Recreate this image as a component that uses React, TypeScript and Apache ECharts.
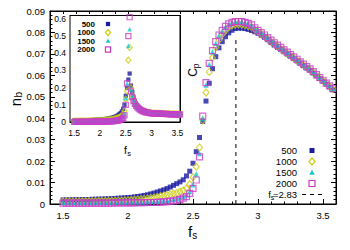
import { useEffect, useRef } from "react";
import * as echarts from "echarts";

// ---------- data ----------
const fs = [
  1.5, 1.525, 1.55, 1.575, 1.6, 1.625, 1.65, 1.675, 1.7, 1.725,
  1.75, 1.775, 1.8, 1.825, 1.85, 1.875, 1.9, 1.925, 1.95, 1.975,
  2, 2.025, 2.05, 2.075, 2.1, 2.125, 2.15, 2.175, 2.2, 2.225,
  2.25, 2.275, 2.3, 2.325, 2.35, 2.375, 2.4, 2.425, 2.45, 2.475,
  2.5, 2.525, 2.55, 2.575, 2.6, 2.625, 2.65, 2.675, 2.7, 2.725,
  2.75, 2.775, 2.8, 2.825, 2.85, 2.875, 2.9, 2.925, 2.95, 2.975,
  3, 3.025, 3.05, 3.075, 3.1, 3.125, 3.15, 3.175, 3.2, 3.225,
  3.25, 3.275, 3.3, 3.325, 3.35, 3.375, 3.4, 3.425, 3.45, 3.475,
  3.5, 3.525, 3.55, 3.575,
];

const cp500 = [
  0.0019, 0.0019, 0.0019, 0.002, 0.002, 0.002, 0.0021, 0.0021, 0.0021, 0.0022,
  0.0022, 0.0023, 0.0023, 0.0024, 0.0024, 0.0025, 0.0026, 0.0027, 0.0028, 0.0029,
  0.003, 0.0031, 0.0033, 0.0035, 0.0037, 0.004, 0.0043, 0.0047, 0.0051, 0.0056,
  0.0061, 0.0066, 0.0072, 0.0079, 0.0087, 0.0095, 0.0103, 0.0113, 0.0131, 0.0153,
  0.019, 0.0244, 0.031, 0.0385, 0.048, 0.0563, 0.0631, 0.0687, 0.0728, 0.0757,
  0.078, 0.0798, 0.081, 0.0818, 0.082, 0.082, 0.0818, 0.0814, 0.0809, 0.0803,
  0.0796, 0.0787, 0.0777, 0.0766, 0.0753, 0.0741, 0.0731, 0.072, 0.071, 0.0699,
  0.0689, 0.0678, 0.0667, 0.0656, 0.0645, 0.0634, 0.0623, 0.0611, 0.0597, 0.0585,
  0.0572, 0.0559, 0.0546, 0.0533,
];
const cp1000 = [
  0.0012, 0.0012, 0.0012, 0.0012, 0.0012, 0.0012, 0.0013, 0.0013, 0.0013, 0.0013,
  0.0013, 0.0014, 0.0014, 0.0014, 0.0014, 0.0015, 0.0015, 0.0016, 0.0016, 0.0017,
  0.0018, 0.0019, 0.002, 0.0021, 0.0022, 0.0024, 0.0026, 0.0028, 0.003, 0.0033,
  0.0036, 0.0039, 0.0042, 0.0045, 0.0048, 0.0052, 0.0057, 0.0063, 0.0072, 0.0092,
  0.0125, 0.0174, 0.0264, 0.039, 0.052, 0.0616, 0.0682, 0.073, 0.0765, 0.0792,
  0.081, 0.0825, 0.0833, 0.0837, 0.0838, 0.0837, 0.0834, 0.083, 0.0825, 0.0815,
  0.0804, 0.0794, 0.0783, 0.0771, 0.0759, 0.0747, 0.0736, 0.0725, 0.0714, 0.0703,
  0.0692, 0.0681, 0.067, 0.0659, 0.0648, 0.0637, 0.0626, 0.0614, 0.06, 0.0588,
  0.0575, 0.0562, 0.0549, 0.0536,
];
const cp1500 = [
  0.0008, 0.0008, 0.0008, 0.0008, 0.0008, 0.0008, 0.0008, 0.0008, 0.0008, 0.0008,
  0.0008, 0.0008, 0.0008, 0.0008, 0.0009, 0.0009, 0.0009, 0.0009, 0.0009, 0.0009,
  0.0009, 0.001, 0.001, 0.001, 0.0011, 0.0011, 0.0012, 0.0012, 0.0013, 0.0014,
  0.0015, 0.0016, 0.0018, 0.002, 0.0022, 0.0025, 0.003, 0.0035, 0.0042, 0.0058,
  0.009, 0.014, 0.0236, 0.04, 0.0555, 0.065, 0.071, 0.075, 0.0785, 0.0805,
  0.0825, 0.0838, 0.0846, 0.085, 0.0851, 0.085, 0.0847, 0.0842, 0.0835, 0.0822,
  0.081, 0.0799, 0.0788, 0.0777, 0.0764, 0.0752, 0.0741, 0.073, 0.0719, 0.0708,
  0.0697, 0.0686, 0.0675, 0.0663, 0.0652, 0.0641, 0.063, 0.0617, 0.0603, 0.059,
  0.0577, 0.0564, 0.0551, 0.0538,
];
const cp2000 = [
  0.0004, 0.0004, 0.0004, 0.0004, 0.0004, 0.0004, 0.0004, 0.0004, 0.0004, 0.0004,
  0.0004, 0.0004, 0.0004, 0.0004, 0.0004, 0.0004, 0.0005, 0.0005, 0.0005, 0.0005,
  0.0005, 0.0005, 0.0005, 0.0006, 0.0006, 0.0006, 0.0007, 0.0007, 0.0007, 0.0008,
  0.0009, 0.001, 0.0011, 0.0013, 0.0015, 0.0018, 0.0022, 0.0027, 0.0034, 0.005,
  0.0073, 0.0112, 0.022, 0.041, 0.0566, 0.0656, 0.0715, 0.0757, 0.0788, 0.081,
  0.0828, 0.084, 0.0847, 0.085, 0.0851, 0.085, 0.0847, 0.0842, 0.0835, 0.0822,
  0.081, 0.0799, 0.0788, 0.0776, 0.0764, 0.0752, 0.0741, 0.073, 0.0719, 0.0708,
  0.0697, 0.0686, 0.0675, 0.0663, 0.0652, 0.0641, 0.063, 0.0617, 0.0603, 0.059,
  0.0577, 0.0564, 0.0551, 0.0538,
];

const nb500 = [
  0.008, 0.008, 0.008, 0.0085, 0.009, 0.009, 0.0095, 0.0095, 0.01, 0.01,
  0.0105, 0.0105, 0.011, 0.011, 0.0115, 0.0115, 0.012, 0.0125, 0.013, 0.0135,
  0.014, 0.0145, 0.015, 0.016, 0.017, 0.018, 0.019, 0.02, 0.022, 0.024,
  0.026, 0.028, 0.031, 0.035, 0.039, 0.045, 0.052, 0.062, 0.077, 0.1,
  0.153, 0.198, 0.247, 0.282, 0.212, 0.175, 0.143, 0.12, 0.105, 0.095,
  0.086, 0.079, 0.073, 0.068, 0.064, 0.061, 0.059, 0.057, 0.056, 0.055,
  0.054, 0.053, 0.053, 0.052, 0.052, 0.051, 0.051, 0.051, 0.05, 0.05,
  0.05, 0.05, 0.049, 0.049, 0.049, 0.049, 0.048, 0.048, 0.048, 0.048,
  0.047, 0.047, 0.047, 0.047,
];
const nb1000 = [
  0.005, 0.005, 0.005, 0.005, 0.0055, 0.0055, 0.0055, 0.006, 0.006, 0.006,
  0.0065, 0.0065, 0.0065, 0.007, 0.007, 0.007, 0.0075, 0.0075, 0.008, 0.008,
  0.0085, 0.009, 0.0095, 0.01, 0.0105, 0.011, 0.012, 0.013, 0.014, 0.015,
  0.016, 0.018, 0.02, 0.022, 0.025, 0.028, 0.032, 0.038, 0.048, 0.065,
  0.133, 0.18, 0.36, 0.433, 0.2, 0.155, 0.128, 0.11, 0.097, 0.088,
  0.081, 0.075, 0.07, 0.066, 0.063, 0.06, 0.058, 0.056, 0.055, 0.054,
  0.053, 0.052, 0.052, 0.051, 0.051, 0.05, 0.05, 0.05, 0.049, 0.049,
  0.049, 0.049, 0.048, 0.048, 0.048, 0.048, 0.047, 0.047, 0.047, 0.047,
  0.046, 0.046, 0.046, 0.046,
];
const nb1500 = [
  0.003, 0.003, 0.003, 0.003, 0.003, 0.0032, 0.0032, 0.0032, 0.0034, 0.0034,
  0.0034, 0.0036, 0.0036, 0.0038, 0.0038, 0.004, 0.004, 0.0042, 0.0044, 0.0046,
  0.0048, 0.005, 0.0053, 0.0056, 0.006, 0.0064, 0.0068, 0.0073, 0.008, 0.0088,
  0.0096, 0.0105, 0.012, 0.0135, 0.0155, 0.018, 0.021, 0.026, 0.033, 0.046,
  0.139, 0.224, 0.443, 0.54, 0.19, 0.15, 0.125, 0.108, 0.096, 0.087,
  0.08, 0.074, 0.069, 0.065, 0.062, 0.059, 0.057, 0.055, 0.054, 0.053,
  0.052, 0.051, 0.051, 0.05, 0.05, 0.049, 0.049, 0.049, 0.048, 0.048,
  0.048, 0.048, 0.047, 0.047, 0.047, 0.047, 0.046, 0.046, 0.046, 0.046,
  0.045, 0.045, 0.045, 0.045,
];
const nb2000 = [
  0.001, 0.001, 0.001, 0.001, 0.001, 0.0011, 0.0011, 0.0011, 0.0012, 0.0012,
  0.0012, 0.0013, 0.0013, 0.0014, 0.0014, 0.0015, 0.0016, 0.0017, 0.0018, 0.0019,
  0.002, 0.0022, 0.0024, 0.0026, 0.0028, 0.003, 0.0033, 0.0036, 0.004, 0.0045,
  0.005, 0.0057, 0.0065, 0.0075, 0.0088, 0.0105, 0.013, 0.017, 0.024, 0.038,
  0.1, 0.224, 0.5, 0.61, 0.178, 0.145, 0.122, 0.106, 0.094, 0.085,
  0.078, 0.072, 0.068, 0.064, 0.061, 0.058, 0.056, 0.054, 0.053, 0.052,
  0.051, 0.05, 0.05, 0.049, 0.049, 0.048, 0.048, 0.048, 0.047, 0.047,
  0.047, 0.047, 0.046, 0.046, 0.046, 0.046, 0.045, 0.045, 0.045, 0.045,
  0.044, 0.044, 0.044, 0.044,
];

const sizeNames = ["500", "1000", "1500", "2000"];
const fsMajor = [1.5, 2, 2.5, 3, 3.5];
const fsMinor = [1.5, 1.6, 1.7, 1.8, 1.9, 2, 2.1, 2.2, 2.3, 2.4, 2.5, 2.6, 2.7, 2.8, 2.9, 3, 3.1, 3.2, 3.3, 3.4, 3.5];
const fsCritical = 2.83;
const criticalLineTop = 0.078;
const criticalLabel = "=2.83";

// ---------- styles ----------
const FONT = "Liberation Sans";
const BLUE = "#1c1ca2";
const YELLOW = "#cccc10";
const CYAN = "#10c8cc";
const MAGENTA = "#c83cc8";

function marker(k: number, scale: number) {
  if (k === 0) return { symbol: "rect", symbolSize: 5 * scale, itemStyle: { color: BLUE } };
  if (k === 1)
    return {
      symbol: "diamond",
      symbolSize: [6 * scale, 7 * scale],
      itemStyle: { color: "rgba(0,0,0,0)", borderColor: YELLOW, borderWidth: 1.2 },
    };
  if (k === 2) return { symbol: "triangle", symbolSize: 5.5 * scale, itemStyle: { color: CYAN } };
  return {
    symbol: "rect",
    symbolSize: 6 * scale,
    itemStyle: { color: "rgba(0,0,0,0)", borderColor: MAGENTA, borderWidth: 1.2 },
  };
}

const black = { color: "#000", width: 1 };

export default function App() {
  const ref = useRef<HTMLDivElement>(null);
  useEffect(() => {
    if (!ref.current) return;
    const chart = echarts.init(ref.current, undefined, { renderer: "svg" });
    const mainSets = [cp500, cp1000, cp1500, cp2000];
    const insetSets = [nb500, nb1000, nb1500, nb2000];

    const mainSeries = mainSets.map((arr, k) => ({
      type: "scatter",
      name: sizeNames[k],
      xAxisIndex: 0,
      yAxisIndex: 0,
      data: fs.map((x, i) => [x, arr[i]]),
      ...marker(k, 1),
      z: 2 + k,
      silent: true,
    }));
    const insetSeries = insetSets.map((arr, k) => ({
      type: "scatter",
      name: sizeNames[k] + " ",
      xAxisIndex: 3,
      yAxisIndex: 2,
      data: fs.map((x, i) => [x, arr[i]]),
      ...marker(k, 0.85),
      clip: true,
      z: 10 + k,
      silent: true,
    }));

    const tickFont = { fontFamily: FONT, color: "#000" };

    const legendRowsMain = [150.5, 161.5, 172.5, 183.5];
    const legendRowsInset = [24, 32.5, 41, 49.5];
    const mx = 312;
    const ix = 108;

    const legendMarkers = (cx: number, rows: number[], s: number) => [
      { type: "rect", shape: { x: cx - 2.5 * s, y: rows[0] - 2.5 * s, width: 5 * s, height: 5 * s }, style: { fill: BLUE } },
      {
        type: "polygon",
        shape: { points: [[cx, rows[1] - 3.5 * s], [cx + 3 * s, rows[1]], [cx, rows[1] + 3.5 * s], [cx - 3 * s, rows[1]]] },
        style: { fill: "none", stroke: YELLOW, lineWidth: 1.2 },
      },
      {
        type: "polygon",
        shape: { points: [[cx, rows[2] - 2.8 * s], [cx + 2.8 * s, rows[2] + 2.2 * s], [cx - 2.8 * s, rows[2] + 2.2 * s]] },
        style: { fill: CYAN },
      },
      { type: "rect", shape: { x: cx - 3 * s, y: rows[3] - 3 * s, width: 6 * s, height: 6 * s }, style: { fill: "none", stroke: MAGENTA, lineWidth: 1.2 } },
    ];

    const option: any = {
      animation: false,
      grid: [
        { left: 50, top: 11, width: 286, height: 193, show: true, borderColor: "#000", borderWidth: 1, backgroundColor: "transparent" },
        { left: 70, top: 15.5, width: 110, height: 106.5, show: true, borderColor: "#000", borderWidth: 1, backgroundColor: "#fff", z: 5 },
      ],
      xAxis: [
        {
          gridIndex: 0, type: "value", min: 1.4, max: 3.6, position: "bottom",
          axisLine: { show: true, lineStyle: black },
          axisTick: { show: true, inside: true, length: 5, customValues: fsMajor, lineStyle: black },
          axisLabel: { show: true, customValues: fsMajor, formatter: (v: number) => String(v), fontSize: 9.5, margin: 6, ...tickFont },
          splitLine: { show: false },
        },
        {
          gridIndex: 0, type: "value", min: 1.4, max: 3.6, position: "bottom",
          axisLine: { show: false },
          axisTick: { show: true, inside: true, length: 2.5, customValues: fsMinor, lineStyle: black },
          axisLabel: { show: false },
          splitLine: { show: false },
        },
        {
          gridIndex: 0, type: "value", min: 1.4, max: 3.6, position: "top",
          axisLine: { show: true, lineStyle: black },
          axisTick: { show: true, inside: true, length: 3, customValues: fsMinor, lineStyle: black },
          axisLabel: { show: false },
          splitLine: { show: false },
        },
        {
          gridIndex: 1, type: "value", min: 1.42, max: 3.55, position: "bottom",
          axisLine: { show: true, lineStyle: black },
          axisTick: { show: true, inside: true, length: 4, customValues: fsMajor, lineStyle: black },
          axisLabel: { show: true, customValues: fsMajor, formatter: (v: number) => String(v), fontSize: 8.5, margin: 6, ...tickFont },
          splitLine: { show: false },
        },
        {
          gridIndex: 1, type: "value", min: 1.42, max: 3.55, position: "bottom",
          axisLine: { show: false },
          axisTick: { show: true, inside: true, length: 2, customValues: fsMinor, lineStyle: black },
          axisLabel: { show: false },
          splitLine: { show: false },
        },
        {
          gridIndex: 1, type: "value", min: 1.42, max: 3.55, position: "top",
          axisLine: { show: true, lineStyle: black },
          axisTick: { show: true, inside: true, length: 2.5, customValues: fsMinor, lineStyle: black },
          axisLabel: { show: false },
          splitLine: { show: false },
        },
      ],
      yAxis: [
        {
          gridIndex: 0, type: "value", min: 0, max: 0.09, interval: 0.01, position: "left",
          axisLine: { show: true, lineStyle: black },
          axisTick: { show: true, inside: true, length: 5, lineStyle: black },
          minorTick: { show: true, splitNumber: 5, length: 2.5, lineStyle: black },
          axisLabel: { formatter: (v: number) => (v === 0 ? "0" : v.toFixed(2)), fontSize: 9.5, margin: 5, ...tickFont },
          splitLine: { show: false },
        },
        {
          gridIndex: 0, type: "value", min: 0, max: 0.09, interval: 0.01, position: "right",
          axisLine: { show: true, lineStyle: black },
          axisTick: { show: true, inside: true, length: 5, lineStyle: black },
          minorTick: { show: true, splitNumber: 5, length: 2.5, lineStyle: black },
          axisLabel: { show: false },
          splitLine: { show: false },
        },
        {
          gridIndex: 1, type: "value", min: 0, max: 0.62, interval: 0.1, position: "left",
          axisLine: { show: true, lineStyle: black },
          axisTick: { show: true, inside: true, length: 4, lineStyle: black },
          minorTick: { show: true, splitNumber: 5, length: 2, lineStyle: black },
          axisLabel: { formatter: (v: number) => (v === 0 ? "0" : v > 0.61 ? "" : v.toFixed(1)), fontSize: 8.5, margin: 4, showMaxLabel: false, ...tickFont },
          splitLine: { show: false },
        },
        {
          gridIndex: 1, type: "value", min: 0, max: 0.62, interval: 0.1, position: "right",
          axisLine: { show: true, lineStyle: black },
          axisTick: { show: true, inside: true, length: 4, lineStyle: black },
          minorTick: { show: true, splitNumber: 5, length: 2, lineStyle: black },
          axisLabel: { show: false },
          splitLine: { show: false },
        },
      ],
      series: [
        ...mainSeries,
        {
          type: "line",
          name: "critical",
          xAxisIndex: 0,
          yAxisIndex: 0,
          data: [[fsCritical, 0], [fsCritical, criticalLineTop]],
          symbol: "none",
          lineStyle: { color: "#000", width: 1, type: [4, 4] },
          z: 1,
          silent: true,
        },
        ...insetSeries,
      ],
      graphic: {
        elements: [
          // main y title n_b
          {
            type: "group", x: 15, y: 99, rotation: Math.PI / 2, z: 50,
            children: [
              { type: "text", x: -3, y: 0, style: { text: "n", fontSize: 15, fontFamily: FONT, fill: "#000", align: "center", verticalAlign: "middle" } },
              { type: "text", x: 1.5, y: 3.5, style: { text: "b", fontSize: 10, fontFamily: FONT, fill: "#000", align: "left", verticalAlign: "middle" } },
            ],
          },
          // C_p
          {
            type: "group", x: 193, y: 70, rotation: Math.PI / 2, z: 50,
            children: [
              { type: "text", x: -2.5, y: 0, style: { text: "C", fontSize: 12, fontFamily: FONT, fill: "#000", align: "center", verticalAlign: "middle" } },
              { type: "text", x: 1.8, y: 3, style: { text: "p", fontSize: 8.5, fontFamily: FONT, fill: "#000", align: "left", verticalAlign: "middle" } },
            ],
          },
          // main x title f_s
          { type: "text", x: 190, y: 231, z: 50, style: { text: "f", fontSize: 15, fontFamily: FONT, fill: "#000", align: "center", verticalAlign: "middle" } },
          { type: "text", x: 192.2, y: 235.5, z: 50, style: { text: "s", fontSize: 10, fontFamily: FONT, fill: "#000", align: "left", verticalAlign: "middle" } },
          // inset x title f_s
          { type: "text", x: 125.5, y: 150, z: 50, style: { text: "f", fontSize: 10.5, fontFamily: FONT, fill: "#000", align: "center", verticalAlign: "middle" } },
          { type: "text", x: 127.3, y: 153, z: 50, style: { text: "s", fontSize: 7.5, fontFamily: FONT, fill: "#000", align: "left", verticalAlign: "middle" } },
          // main legend
          ...sizeNames.map((n, k) => ({
            type: "text", x: 297, y: legendRowsMain[k], z: 50,
            style: { text: n, fontSize: 9.5, fontFamily: FONT, fill: "#000", align: "right", verticalAlign: "middle" },
          })),
          ...legendMarkers(mx, legendRowsMain, 1).map((e) => ({ ...e, z: 50 })),
          { type: "text", x: 271, y: 194.5, z: 50, style: { text: "f", fontSize: 9.5, fontFamily: FONT, fill: "#000", align: "right", verticalAlign: "middle" } },
          { type: "text", x: 270.8, y: 197, z: 50, style: { text: "s", fontSize: 7, fontFamily: FONT, fill: "#000", align: "left", verticalAlign: "middle" } },
          { type: "text", x: 297, y: 194.5, z: 50, style: { text: criticalLabel, fontSize: 9.5, fontFamily: FONT, fill: "#000", align: "right", verticalAlign: "middle" } },
          { type: "line", z: 50, shape: { x1: 302, y1: 194.5, x2: 324, y2: 194.5 }, style: { stroke: "#000", lineWidth: 1, lineDash: [4, 4] } },
          // inset legend
          ...sizeNames.map((n, k) => ({
            type: "text", x: 95, y: legendRowsInset[k], z: 50,
            style: { text: n, fontSize: 8, fontWeight: "bold", fontFamily: FONT, fill: "#000", align: "right", verticalAlign: "middle" },
          })),
          ...legendMarkers(ix, legendRowsInset, 0.85).map((e) => ({ ...e, z: 50 })),
        ],
      },
    };
    chart.setOption(option);
    return () => chart.dispose();
  }, []);
  return <div ref={ref} style={{ position: "fixed", left: 0, top: 0, width: 350, height: 250, background: "#fff" }} />;
}
